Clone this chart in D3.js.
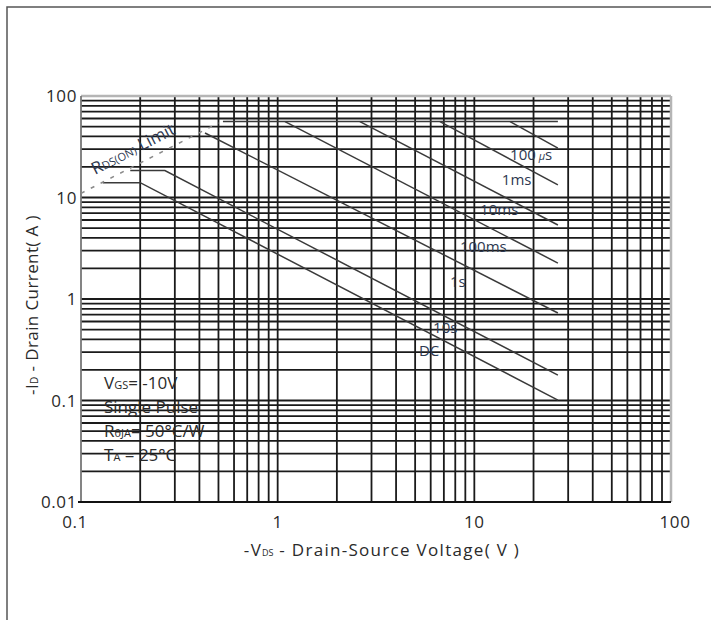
<!DOCTYPE html>
<html>
<head>
<meta charset="utf-8">
<script src="https://cdn.jsdelivr.net/npm/d3@7"></script>
<style>
  body { margin: 0; background: #fff; }
  text { font-family: "Open Sans", sans-serif; fill: #2a2a2a; }
</style>
</head>
<body>
<div id="chart"></div>
<script>
// axis ticks
const xTicks = [0.1, 1, 10, 100];
const xTickLabels = ["0.1", "1", "10", "100"];
const yTicks = [100, 10, 1, 0.1, 0.01];
const yTickLabels = ["100", "10", "1", "0.1", "0.01"];

// SOA curves, [-Vds (V), -Id (A)]
const rdsLimit = [[0.1, 11.0], [0.5, 54.2]];
const currentLimit = [[0.527, 56], [26.6, 56]];
const us100 = [[15.2, 56], [26.6, 30.7]];
const ms1 = [[6.69, 56], [26.6, 13.3]];
const ms10 = [[2.62, 56], [26.6, 5.36]];
const ms100 = [[1.09, 56], [26.6, 2.26]];
const s1 = [[0.427, 43.2], [26.6, 0.728]];
const s10 = [[0.178, 18.4], [0.267, 18.4], [26.6, 0.178]];
const dc = [[0.129, 14.0], [0.2, 14.0], [26.6, 0.101]];

// curve labels and where they sit (data units)
const curveLabels = ["100", "1ms", "10ms", "100ms", "1s", "10s", "DC"];
const labelAt = [[15.2, 23.4], [13.8, 13.3], [10.7, 6.73], [8.45, 2.9], [7.52, 1.31], [6.17, 0.462], [5.23, 0.274]];

const width = 711, height = 620;
const svg = d3.select("#chart").append("svg")
    .attr("width", width)
    .attr("height", height);

// outer frame
svg.append("path")
    .attr("d", `M7,${height} V7 H${width}`)
    .attr("fill", "none")
    .attr("stroke", "#555")
    .attr("stroke-width", 1.5);

const x = d3.scaleLog().domain([0.1, 100]).range([81, 671]);
const y = d3.scaleLog().domain([0.01, 100]).range([502, 96]);

// log grid
const gridX = [];
const gridY = [];
for (const dec of [0.1, 1, 10]) {
    for (let k = 1; k <= 9; k++) gridX.push(dec * k);
}
for (const dec of [0.01, 0.1, 1, 10]) {
    for (let k = 1; k <= 9; k++) gridY.push(dec * k);
}

const grid = svg.append("g").attr("class", "grid");
grid.selectAll(".vline")
    .data(gridX.slice(1))
    .enter()
    .append("line")
    .attr("x1", d => x(d)).attr("x2", d => x(d))
    .attr("y1", y(100)).attr("y2", y(0.01))
    .attr("stroke", "#1a1a1a")
    .attr("stroke-width", 1.8);
grid.selectAll(".hline")
    .data(gridY.slice(1))
    .enter()
    .append("line")
    .attr("y1", d => y(d)).attr("y2", d => y(d))
    .attr("x1", x(0.1)).attr("x2", x(100))
    .attr("stroke", "#1a1a1a")
    .attr("stroke-width", 1.8);

// plot frame
svg.append("line")
    .attr("x1", x(0.1)).attr("x2", x(100)).attr("y1", y(100)).attr("y2", y(100))
    .attr("stroke", "#b5b5b5").attr("stroke-width", 2.5);
svg.append("line")
    .attr("x1", x(100)).attr("x2", x(100)).attr("y1", y(100)).attr("y2", y(0.01))
    .attr("stroke", "#b5b5b5").attr("stroke-width", 2.5);
svg.append("line")
    .attr("x1", x(0.1)).attr("x2", x(0.1)).attr("y1", y(100)).attr("y2", y(0.01))
    .attr("stroke", "#777").attr("stroke-width", 1.8);
svg.append("line")
    .attr("x1", x(0.1) - 3).attr("x2", x(100)).attr("y1", y(0.01)).attr("y2", y(0.01))
    .attr("stroke", "#111").attr("stroke-width", 1.8);

// curves
const line = d3.line().x(d => x(d[0])).y(d => y(d[1]));
const curves = [currentLimit, us100, ms1, ms10, ms100, s1, s10, dc];
svg.selectAll(".curve")
    .data(curves)
    .enter()
    .append("path")
    .attr("class", "curve")
    .attr("d", line)
    .attr("fill", "none")
    .attr("stroke", "#3a3a3a")
    .attr("stroke-width", 1.5);

svg.append("path")
    .attr("d", line(rdsLimit))
    .attr("fill", "none")
    .attr("stroke", "#8a8a8a")
    .attr("stroke-width", 1.5)
    .attr("stroke-dasharray", "4,7");

// Rds(on) label, along the dashed line
const ang = Math.atan2(y(rdsLimit[1][1]) - y(rdsLimit[0][1]), x(rdsLimit[1][0]) - x(rdsLimit[0][0])) * 180 / Math.PI;
const rdsText = svg.append("text")
    .attr("transform", `translate(${x(0.1178)},${y(16.7)}) rotate(${ang})`)
    .style("font-size", "17px")
    .style("fill", "#2d3850");
rdsText.append("tspan").text("R");
rdsText.append("tspan").text("DS(ON)").style("font-size", "11px");
rdsText.append("tspan").text(" Limit");

// curve labels
svg.selectAll(".clabel")
    .data(curveLabels)
    .enter()
    .append("text")
    .attr("class", "clabel")
    .attr("x", (d, i) => x(labelAt[i][0]))
    .attr("y", (d, i) => y(labelAt[i][1]))
    .style("font-size", "15px")
    .style("fill", "#2d3850")
    .each(function (d, i) {
        const t = d3.select(this);
        t.append("tspan").text(d);
        if (i === 0) {
            t.append("tspan").text(" μ").style("font-size", "11px").style("font-style", "italic");
            t.append("tspan").text("s");
        }
    });

// tick labels
svg.selectAll(".ylab")
    .data(yTicks)
    .enter()
    .append("text")
    .attr("x", 77)
    .attr("y", d => y(d) + 6)
    .attr("text-anchor", "end")
    .style("font-size", "17px")
    .style("letter-spacing", "0.6px")
    .text((d, i) => yTickLabels[i]);

svg.selectAll(".xlab")
    .data(xTicks)
    .enter()
    .append("text")
    .attr("x", (d, i) => x(d) + (i === 0 ? -6 : i === 3 ? 4 : 0))
    .attr("y", 528)
    .attr("text-anchor", "middle")
    .style("font-size", "17px")
    .style("letter-spacing", "0.6px")
    .text((d, i) => xTickLabels[i]);

// axis titles
const xt = svg.append("text")
    .attr("x", 382)
    .attr("y", 556)
    .attr("text-anchor", "middle")
    .style("font-size", "17px")
    .style("letter-spacing", "1.3px");
xt.append("tspan").text("-V");
xt.append("tspan").text("DS").style("font-size", "9px").style("letter-spacing", "0px");
xt.append("tspan").text("  - Drain-Source Voltage( V )");

const yt = svg.append("text")
    .attr("transform", "translate(38,305) rotate(-90)")
    .attr("text-anchor", "middle")
    .style("font-size", "17px")
    .style("letter-spacing", "0.4px");
yt.append("tspan").text("-I");
yt.append("tspan").text("D").style("font-size", "10px");
yt.append("tspan").text(" - Drain Current( A )");

// test conditions
const cond = svg.append("g").attr("transform", "translate(104,0)");
function condLine(yPos, main, sub, rest) {
    const t = cond.append("text").attr("y", yPos).style("font-size", "17px");
    t.append("tspan").text(main);
    if (sub) t.append("tspan").text(sub).style("font-size", "11px");
    t.append("tspan").text(rest);
}
condLine(389, "V", "GS", "= -10V");
condLine(413, "Single Pulse", null, "");
condLine(437, "R", "θJA", "= 50°C/W");
condLine(461, "T", "A", "  = 25°C");
</script>
</body>
</html>
